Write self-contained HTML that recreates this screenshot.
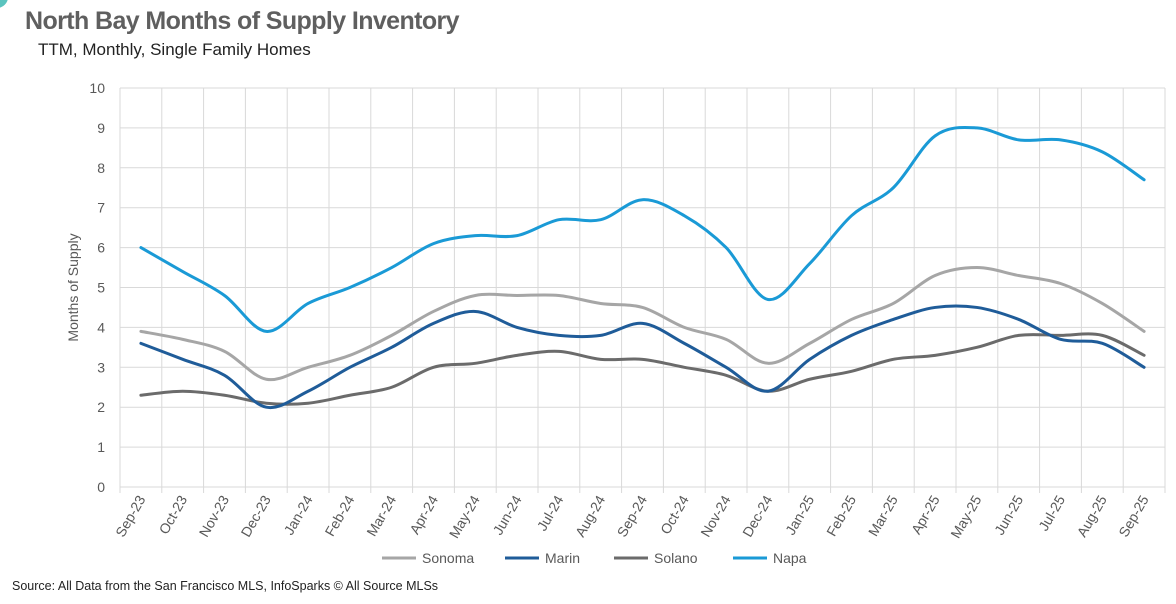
<!DOCTYPE html>
<html><head><meta charset="utf-8"><style>
body{margin:0;width:1176px;height:604px;background:#fff;font-family:"Liberation Sans",sans-serif;overflow:hidden;position:relative}
</style></head><body>
<div style="position:absolute;left:-14px;top:-14px;width:22px;height:22px;border-radius:50%;background:#5bc4bf"></div>
<div style="position:absolute;left:25px;top:7px;font-size:25px;font-weight:bold;color:#5f5f5f;letter-spacing:-0.6px">North Bay Months of Supply Inventory</div>
<div style="position:absolute;left:38px;top:40px;font-size:17px;color:#222">TTM, Monthly, Single Family Homes</div>
<div style="position:absolute;left:12px;top:579px;font-size:12.5px;color:#222">Source: All Data from the San Francisco MLS, InfoSparks © All Source MLSs</div>
<svg id="chart" width="1176" height="604" style="position:absolute;left:0;top:0"></svg>
<script>
const months=["Sep-23","Oct-23","Nov-23","Dec-23","Jan-24","Feb-24","Mar-24","Apr-24","May-24","Jun-24","Jul-24","Aug-24","Sep-24","Oct-24","Nov-24","Dec-24","Jan-25","Feb-25","Mar-25","Apr-25","May-25","Jun-25","Jul-25","Aug-25","Sep-25"];
const sonoma=[3.9,3.7,3.4,2.7,3.0,3.3,3.8,4.4,4.8,4.8,4.8,4.6,4.5,4.0,3.7,3.1,3.6,4.2,4.6,5.3,5.5,5.3,5.1,4.6,3.9];
const marin=[3.6,3.2,2.8,2.0,2.4,3.0,3.5,4.1,4.4,4.0,3.8,3.8,4.1,3.6,3.0,2.4,3.2,3.8,4.2,4.5,4.5,4.2,3.7,3.6,3.0];
const solano=[2.3,2.4,2.3,2.1,2.1,2.3,2.5,3.0,3.1,3.3,3.4,3.2,3.2,3.0,2.8,2.4,2.7,2.9,3.2,3.3,3.5,3.8,3.8,3.8,3.3];
const napa=[6.0,5.4,4.8,3.9,4.6,5.0,5.5,6.1,6.3,6.3,6.7,6.7,7.2,6.8,6.0,4.7,5.6,6.8,7.5,8.8,9.0,8.7,8.7,8.4,7.7];
const yTicks=[0,1,2,3,4,5,6,7,8,9,10];
const seriesNames=["Sonoma","Marin","Solano","Napa"];
const svg=document.getElementById('chart');const NS="http://www.w3.org/2000/svg";
const L=120,R=1165,T=88,B=487,yMax=10;
const bw=(R-L)/months.length;
const x=i=>L+bw*(i+0.5);const y=v=>B-(v/yMax)*(B-T);
function mk(t,a,p){const e=document.createElementNS(NS,t);for(const k in a)e.setAttribute(k,a[k]);(p||svg).appendChild(e);return e;}
yTicks.forEach(v=>{
const g=mk('line',{x1:L,x2:R,y1:y(v),y2:y(v),stroke:'#d9d9d9','stroke-width':1});


const t=mk('text',{x:105,y:y(v)+5,'text-anchor':'end','font-size':14,fill:'#595959'});t.textContent=v;


});
for(let i=0;i<=months.length;i++){
const g=mk('line',{x1:L+bw*i,x2:L+bw*i,y1:T,y2:B+6,stroke:'#d9d9d9','stroke-width':1});


}
months.forEach((m,i)=>{
const t=mk('text',{x:0,y:0,'text-anchor':'end','font-size':14,fill:'#595959',transform:`translate(${x(i)+5},${B+12}) rotate(-60)`});t.textContent=m;


});
const yt=mk('text',{x:0,y:0,'text-anchor':'middle','font-size':14,fill:'#595959',transform:`translate(78,${(T+B)/2}) rotate(-90)`});yt.textContent="Months of Supply";


function smooth(vals){
const p=vals.map((v,i)=>[x(i),y(v)]);let d=`M${p[0][0]},${p[0][1]}`;
for(let i=0;i<p.length-1;i++){const p0=p[i-1]||p[i],p1=p[i],p2=p[i+1],p3=p[i+2]||p2;const k=1/6;
d+=` C${p1[0]+(p2[0]-p0[0])*k},${p1[1]+(p2[1]-p0[1])*k} ${p2[0]-(p3[0]-p1[0])*k},${p2[1]-(p3[1]-p1[1])*k} ${p2[0]},${p2[1]}`;}
return d;}
const data=[sonoma,marin,solano,napa];const colors=["#a6a6a6","#1f5c99","#6b6b6b","#1a9ad6"];
[2,0,1,3].forEach(s=>{
const pth=mk('path',{d:smooth(data[s]),fill:'none',stroke:colors[s],'stroke-width':3,'stroke-linecap':'round'});


});
const lx=[382,505,614,733];
seriesNames.forEach((n,i)=>{
const g=mk('g',{});


mk('line',{x1:lx[i],x2:lx[i]+34,y1:558,y2:558,stroke:colors[i],'stroke-width':3},g);
const t=mk('text',{x:lx[i]+40,y:563,'font-size':14,fill:'#595959'},g);t.textContent=n;
});
</script>
</body></html>
